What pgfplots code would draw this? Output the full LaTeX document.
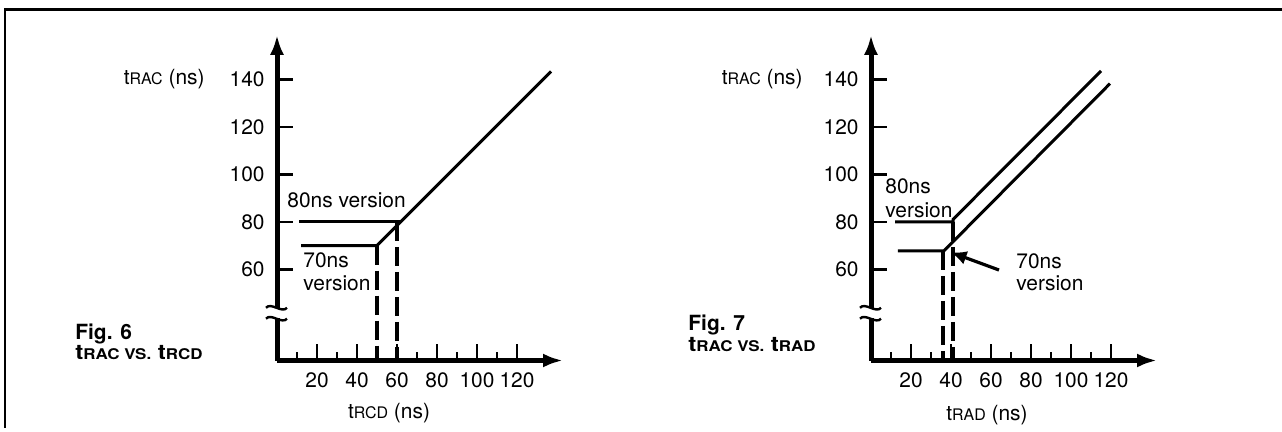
\documentclass[border=0pt]{standalone}
\usepackage{fontspec}
\setmainfont{TeX Gyre Heros}
\usepackage{graphicx}
\usepackage{pgfplots}
\pgfplotsset{compat=1.18}
\usetikzlibrary{arrows.meta}

% small capitals after the leading t, as in tRAC
\newcommand{\sub}[1]{{\fontsize{8}{9}\selectfont #1}}
\newcommand{\capsub}[1]{{\fontsize{7.4}{8}\selectfont #1}}

\tikzset{
  lbl/.style={font=\fontsize{10.5}{12}\selectfont, inner sep=0pt, anchor=west},
  longdash/.style={line width=1.6bp, dash pattern=on 9.5bp off 3bp},
}

\pgfplotsset{
  timing/.style={
    scale only axis, width=143bp, height=162.8bp,
    anchor=south west,
    xmin=0, xmax=143, ymin=21.6, ymax=158.7,
    axis lines=left,
    axis line style={line width=2.5bp},
    x axis line style={-{Latex[length=10bp,width=7bp]}},
    y axis line style={-{Latex[length=10bp,width=7bp]}},
    tick align=inside,
    major tick length=8bp, minor tick length=4bp,
    every tick/.style={black, line width=1.2bp},
    xtick={20,40,...,120}, minor xtick={10,30,...,110},
    ytick={60,80,...,140},
    /pgf/number format/assume math mode=true,
    ticklabel style={font=\fontsize{10.5}{12}\selectfont},
    xticklabel style={inner sep=0pt, yshift=-6bp},
    yticklabel style={inner sep=0pt, xshift=-6bp},
    clip=false,
    cycle list={{black, line width=1.5bp}},
    every axis plot/.append style={black, line width=1.5bp, no marks},
  }
}

\newcommand{\axisbreak}{%
  \fill[white] ([xshift=-3bp]axis cs:0,39.4) rectangle ([xshift=3bp]axis cs:0,43.6);
  \draw[line width=1.2bp] ([xshift=-5.5bp]axis cs:0,43.8) .. controls +(2.5bp,3bp) and +(-2.5bp,-3bp) .. ([xshift=5bp]axis cs:0,43.8);
  \draw[line width=1.2bp] ([xshift=-5.5bp]axis cs:0,39.2) .. controls +(2.5bp,3bp) and +(-2.5bp,-3bp) .. ([xshift=5bp]axis cs:0,39.2);
}

\begin{document}
\begin{tikzpicture}
\useasboundingbox (0,0) rectangle (641bp,216bp);
\draw[line width=1bp] (2.5bp,2bp) -- (2.5bp,211bp);
\draw[line width=1.5bp] (2bp,211bp) -- (641bp,211bp);

% Fig. 6
\begin{axis}[timing, at={(138.5bp,35.75bp)}]
  \addplot coordinates {(11,80) (61.8,80)};
  \addplot coordinates {(12,70) (50,70) (137,143.3)};
  \addplot[longdash] coordinates {(50,70) (50,21.6)};
  \addplot[longdash] coordinates {(60,80) (60,21.6)};
  \node[lbl] at (axis cs:5,89.2) {80ns version};
  \node[lbl] at (axis cs:13,63.9) {70ns};
  \node[lbl] at (axis cs:13,54.2) {version};
  \node[lbl, anchor=east] at ([xshift=-36bp]axis cs:0,140) {t\sub{RAC} (ns)};
  \node[lbl, anchor=center] at ([yshift=-26.25bp]axis cs:56,21.6) {t\sub{RCD} (ns)};
  \axisbreak
\end{axis}

% Fig. 7
\begin{axis}[timing, at={(435.5bp,35.75bp)}]
  \addplot coordinates {(12,80) (41,80) (41,81) (115,143.5)};
  \addplot coordinates {(13.4,67.8) (36.5,67.8) (119.5,138.2)};
  \addplot[longdash] coordinates {(36,67.8) (36,21.6)};
  \addplot[longdash] coordinates {(41,80) (41,21.6)};
  \addplot[line width=1.6bp, -{Latex[length=8bp,width=7bp]}] coordinates {(64,59.7) (39.8,67.2)};
  \node[lbl] at (axis cs:7,95) {80ns};
  \node[lbl] at (axis cs:7,85) {version};
  \node[lbl] at (axis cs:72.5,63.2) {70ns};
  \node[lbl] at (axis cs:72.5,54.2) {version};
  \node[lbl, anchor=east] at ([xshift=-34bp]axis cs:0,140) {t\sub{RAC} (ns)};
  \node[lbl, anchor=center] at ([yshift=-27.25bp]axis cs:58,21.6) {t\sub{RAD} (ns)};
  \axisbreak
\end{axis}

\node[anchor=west, inner sep=0pt, font=\bfseries\fontsize{10.5}{12}\selectfont] at (37.5bp,49bp) {Fig. 6};
\node[anchor=west, inner sep=0pt] at (37.5bp,39.75bp)
  {\scalebox{1.15}[1]{\bfseries\fontsize{10.5}{12}\selectfont t\capsub{RAC VS.} t\capsub{RCD}}};
\node[anchor=west, inner sep=0pt, font=\bfseries\fontsize{10.5}{12}\selectfont] at (344bp,53.5bp) {Fig. 7};
\node[anchor=west, inner sep=0pt] at (344bp,43.5bp)
  {\scalebox{1.15}[1]{\bfseries\fontsize{10.5}{12}\selectfont t\capsub{RAC VS.} t\capsub{RAD}}};
\end{tikzpicture}
\end{document}
